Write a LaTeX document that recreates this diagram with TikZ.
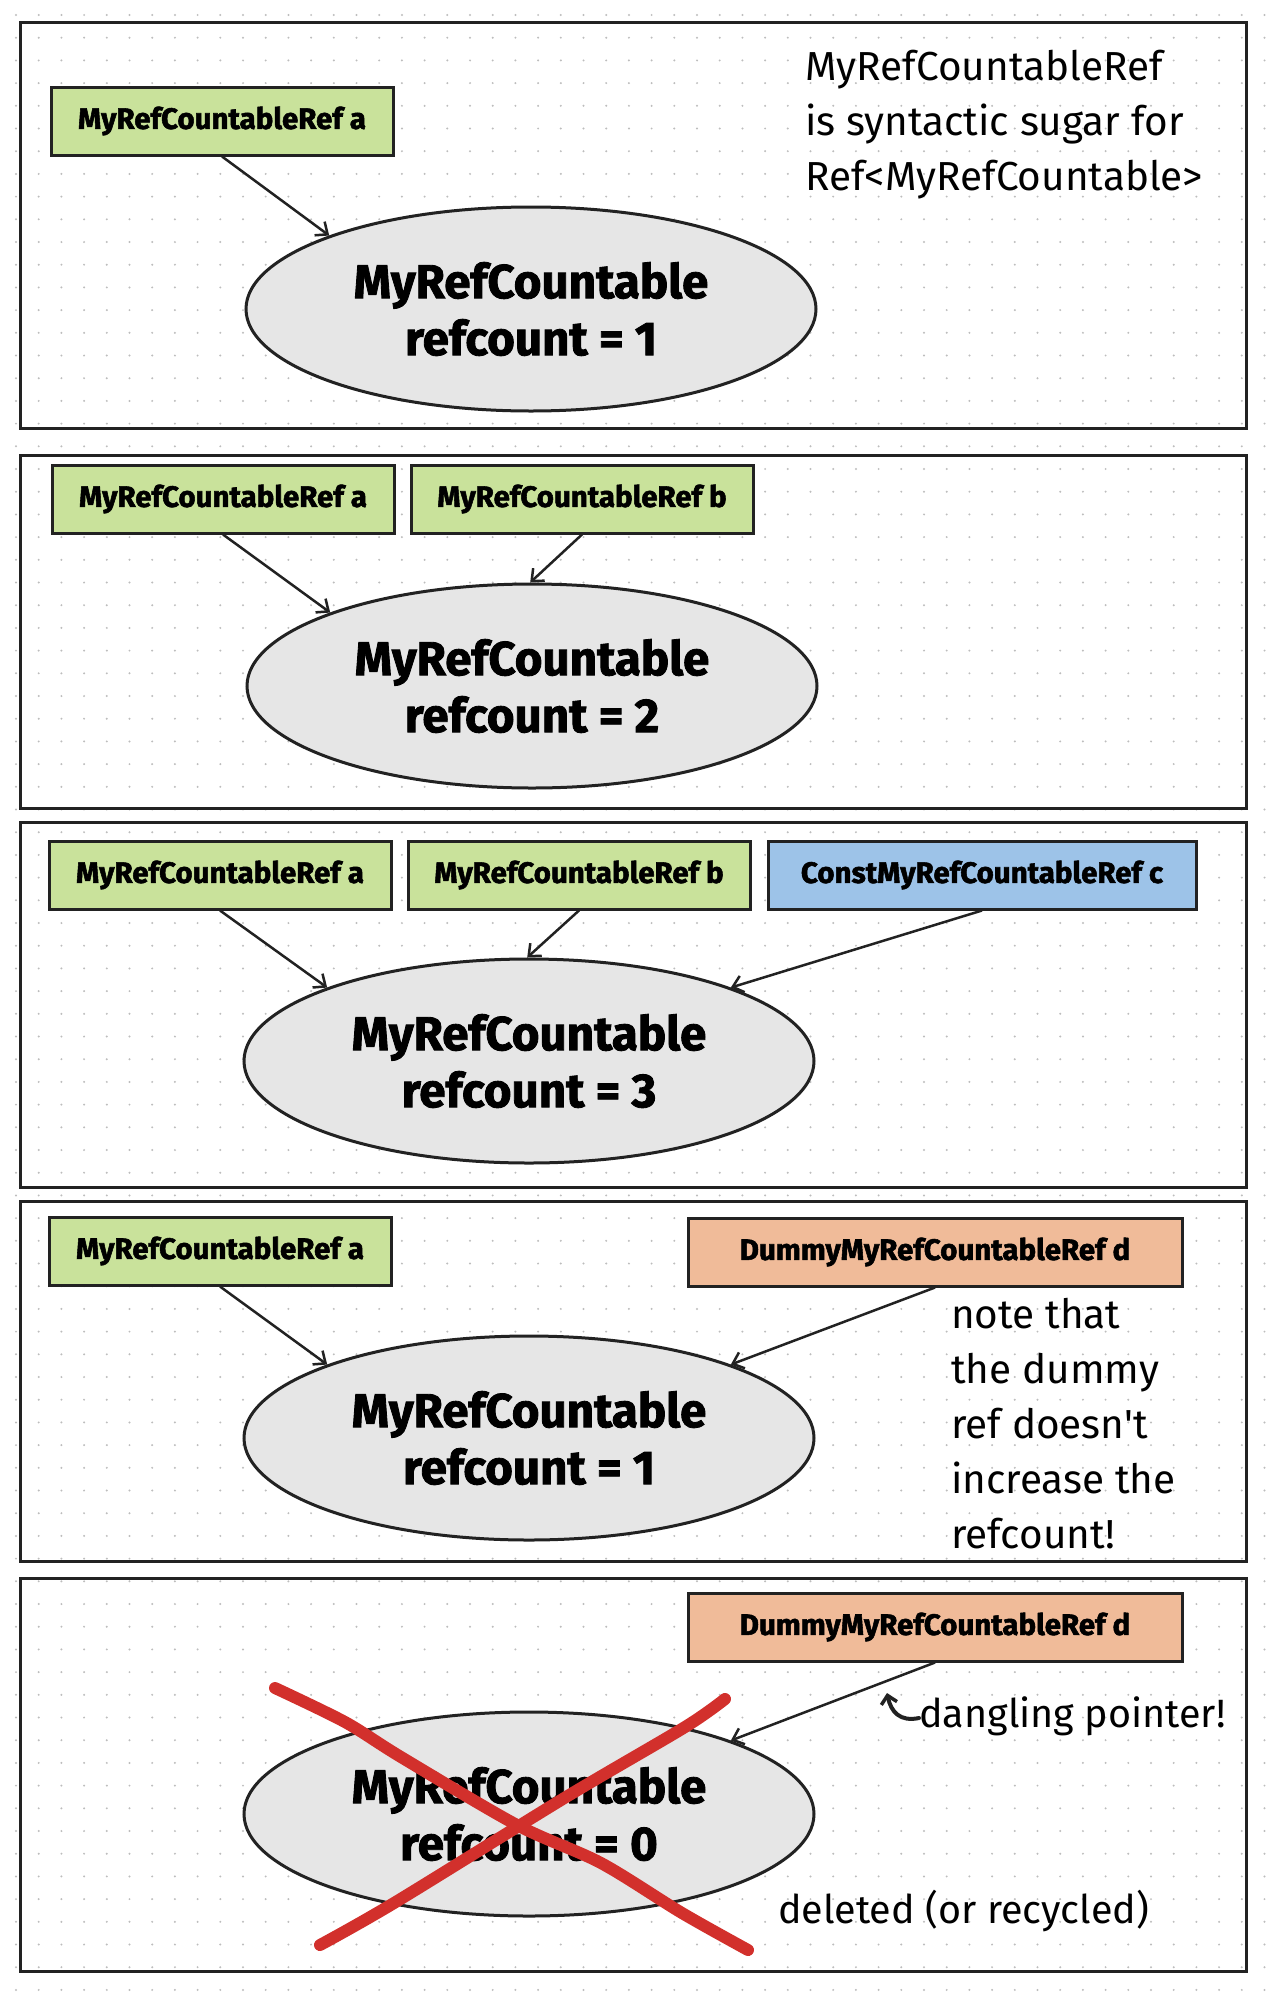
\documentclass[tikz,border=0pt]{standalone}
\usepackage{fontspec}
\setmainfont{Fira Sans}
\newfontfamily\heavyfont{Fira Sans}[BoldFeatures={FakeBold=1.8}]
\usetikzlibrary{arrows.meta,shapes.geometric,calc}
\definecolor{gfill}{HTML}{C9E29B}
\definecolor{bfill}{HTML}{9DC3E8}
\definecolor{ofill}{HTML}{F0BB99}
\definecolor{efill}{HTML}{E6E6E6}
\definecolor{ink}{HTML}{222222}
\definecolor{xred}{HTML}{D2302C}
\definecolor{dotc}{HTML}{BDBDBD}
\begin{document}
\begin{tikzpicture}[x=1pt,y=-1pt,
  panel/.style={draw=ink,line width=3pt},
  refbox/.style={draw=ink,line width=3pt,minimum height=68pt,inner sep=0pt,font=\heavyfont\fontsize{29.5}{33}\selectfont\bfseries},
  gbox/.style={refbox,fill=gfill,minimum width=342pt},
  bbox/.style={refbox,fill=bfill,minimum width=428pt},
  obox/.style={refbox,fill=ofill,minimum width=494pt},
  obj/.style={ellipse,draw=ink,fill=efill,line width=3pt,minimum width=570pt,minimum height=204pt,inner sep=0pt,align=center,font=\heavyfont\fontsize{47.5}{57}\selectfont\bfseries},
  ptr/.style={draw=ink,line width=2.5pt,-{Straight Barb[length=10pt,width=17pt,line width=2.5pt]}},
  note/.style={align=left,anchor=north west,inner sep=0pt,font=\fontsize{40.5}{55}\selectfont},
  plain/.style={anchor=west,inner sep=0pt,font=\fontsize{39.5}{55}\selectfont},
  cross/.style={draw=xred,line width=12pt,line cap=round,line join=round}
]
\useasboundingbox (0,0) rectangle (1266,1994);
\fill[white] (0,0) rectangle (1266,1994);
\foreach \i in {0,...,55}{\foreach \j in {0,...,87}{\fill[dotc] (16+\i*22.7,15+\j*22.7) circle (1.1pt);}}

% panels
\draw[panel] (20,22) rectangle (1246,428);
\draw[panel] (20,455) rectangle (1246,808);
\draw[panel] (20,822) rectangle (1246,1187);
\draw[panel] (20,1201) rectangle (1246,1561);
\draw[panel] (20,1578) rectangle (1246,1971);

% panel 1
\node[gbox] (a1) at (222,121) {MyRefCountableRef a};
\node[obj] (e1) at (531,309) {MyRefCountable\\refcount = 1};
\node[note] (n1) at (805,50) {MyRefCountableRef\\is syntactic sugar for\\Ref<MyRefCountable>};
\draw[ptr] (a1.south) -- (e1.160);

% panel 2
\node[gbox] (a2) at (223,499) {MyRefCountableRef a};
\node[gbox] (b2) at (582,499) {MyRefCountableRef b};
\node[obj] (e2) at (532,686) {MyRefCountable\\refcount = 2};
\draw[ptr] (a2.south) -- (e2.160);
\draw[ptr] (b2.south) -- (e2.91);

% panel 3
\node[gbox] (a3) at (220,875) {MyRefCountableRef a};
\node[gbox] (b3) at (579,875) {MyRefCountableRef b};
\node[bbox] (c3) at (982,875) {ConstMyRefCountableRef c};
\node[obj] (e3) at (529,1061) {MyRefCountable\\refcount = 3};
\draw[ptr] (a3.south) -- (e3.160);
\draw[ptr] (b3.south) -- (e3.91);
\draw[ptr] (c3.south) -- (e3.20);

% panel 4
\node[gbox] (a4) at (220,1251) {MyRefCountableRef a};
\node[obox] (d4) at (935,1252) {DummyMyRefCountableRef d};
\node[obj] (e4) at (529,1438) {MyRefCountable\\refcount = 1};
\node[note] (n4) at (951,1298) {note that\\the dummy\\ref doesn\textquotesingle t\\increase the\\refcount!};
\draw[ptr] (a4.south) -- (e4.160);
\draw[ptr] (d4.south) -- (e4.20);

% panel 5
\node[obox] (d5) at (935,1627) {DummyMyRefCountableRef d};
\node[obj] (e5) at (529,1814) {MyRefCountable\\refcount = 0};
\draw[ptr] (d5.south) -- (e5.20);
\node[plain] (dp) at (919,1716) {dangling pointer!};
\draw[draw=ink,line width=4pt,line cap=round,-{Straight Barb[length=8pt,width=16pt,line width=3.5pt]}] ($(dp.west)+(0,2)$) .. controls (900,1722) and (891,1712) .. (887,1693);
\node[plain] (del) at (778,1911) {deleted (or recycled)};
\draw[cross] plot[smooth] coordinates {(275,1688) (345,1722) (401,1757) (517,1825) (601,1863) (682,1913) (748,1950)};
\draw[cross] plot[smooth] coordinates {(725,1699) (685,1727) (566,1797) (394,1903) (320,1945)};
\end{tikzpicture}
\end{document}
